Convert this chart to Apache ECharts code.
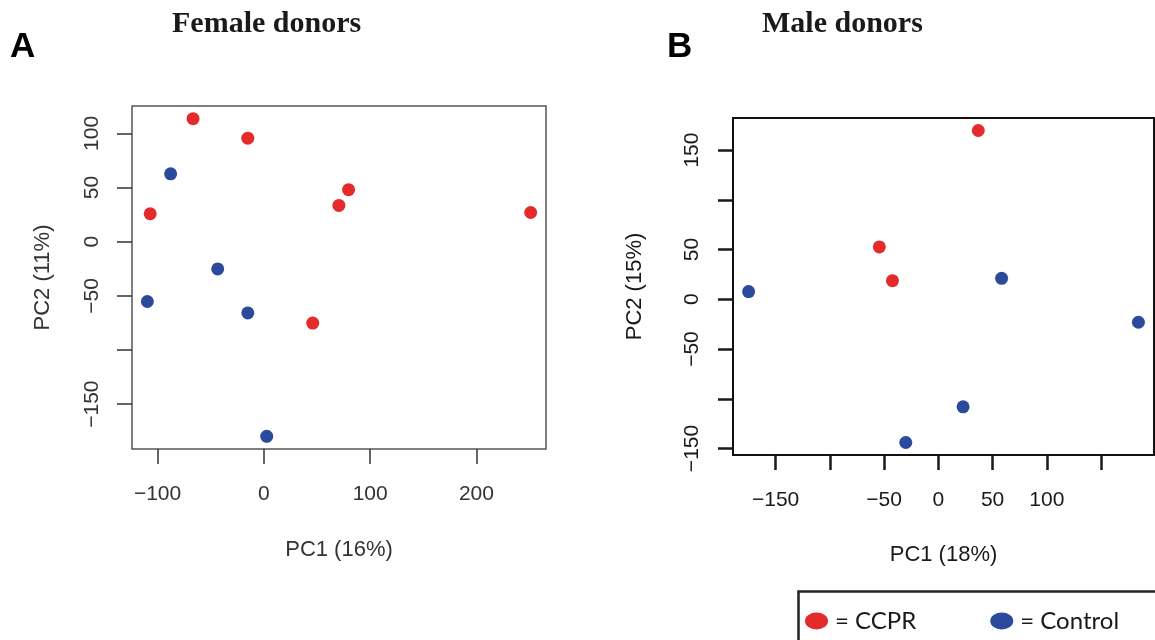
<!DOCTYPE html>
<html>
<head>
<meta charset="utf-8">
<script src="https://cdn.jsdelivr.net/npm/echarts@6/dist/echarts.min.js"></script>
<style>
  html, body { margin: 0; padding: 0; background: #ffffff; }
  #chart { width: 1155px; height: 640px; }
</style>
</head>
<body>
<div id="chart"></div>
<script>
// ---------- data ----------
const femaleCCPR_PC1    = [-106.9, -66.6, -15.1, 70.6, 79.7, 46.0, 251.0];
const femaleCCPR_PC2    = [25.8, 113.6, 95.6, 33.5, 48.1, -75.1, 27.0];
const femaleControl_PC1 = [-87.7, -43.4, -109.6, -15.1, 2.7];
const femaleControl_PC2 = [62.7, -25.1, -55.2, -65.8, -179.7];

const maleCCPR_PC1    = [36.8, -54.4, -42.3];
const maleCCPR_PC2    = [169.7, 52.6, 18.7];
const maleControl_PC1 = [-174.9, 58.3, 184.4, 22.8, -30.0];
const maleControl_PC2 = [7.7, 21.1, -23.1, -108.1, -144.0];

// tick marks and the tick labels that are printed
const femaleXTicks  = [-100, 0, 100, 200];
const femaleXLabels = [-100, 0, 100, 200];
const femaleYTicks  = [-150, -100, -50, 0, 50, 100];
const femaleYLabels = [-150, -50, 0, 50, 100];
const maleXTicks  = [-150, -100, -50, 0, 50, 100, 150];
const maleXLabels = [-150, -50, 0, 50, 100];
const maleYTicks  = [-150, -100, -50, 0, 50, 100, 150];
const maleYLabels = [-150, -50, 0, 50, 150];

const seriesNames = ['CCPR', 'Control'];
const titles = ['Female donors', 'Male donors'];
const panelLetters = ['A', 'B'];
const xNames = ['PC1 (16%)', 'PC1 (18%)'];
const yNames = ['PC2 (11%)', 'PC2 (15%)'];

// ---------- helpers ----------
const RED = '#e42a2b';
const BLUE = '#2b4a9b';
const pairs = (xs, ys) => xs.map((x, i) => [x, ys[i]]);
const minusFmt = v => String(v).replace('-', '\u2212');
// R-style 4% padding of the data range
function rRange(arrs) {
  const all = [].concat(...arrs);
  const lo = Math.min(...all), hi = Math.max(...all);
  const pad = (hi - lo) * 0.04;
  return [lo - pad, hi + pad];
}
const fX = rRange([femaleCCPR_PC1, femaleControl_PC1]);
const fY = rRange([femaleCCPR_PC2, femaleControl_PC2]);
const mX = rRange([maleCCPR_PC1, maleControl_PC1]);
const mY = rRange([maleCCPR_PC2, maleControl_PC2]);

const labelFont = { fontFamily: 'Liberation Sans, Arial, sans-serif', fontSize: 21 };

function xAxisOf(grid, range, ticks, labels, name, color, tickWidth, gap) {
  return {
    type: 'value', gridIndex: grid, min: range[0], max: range[1],
    name: name, nameLocation: 'middle', nameGap: gap,
    nameTextStyle: { color: color, fontSize: 22, fontFamily: labelFont.fontFamily },
    axisLine: { show: false, onZero: false },
    splitLine: { show: false },
    axisTick: { show: true, inside: false, length: 15, customValues: ticks,
                lineStyle: { color: color, width: tickWidth } },
    axisLabel: Object.assign({ show: true, customValues: labels, margin: 35,
                formatter: minusFmt, color: color }, labelFont)
  };
}
function yAxisOf(grid, range, ticks, labels, name, color, tickWidth, gap, margin) {
  return {
    type: 'value', gridIndex: grid, min: range[0], max: range[1],
    name: name, nameLocation: 'middle', nameGap: gap, nameRotate: 90,
    nameTextStyle: { color: color, fontSize: 22, fontFamily: labelFont.fontFamily },
    axisLine: { show: false, onZero: false },
    splitLine: { show: false },
    axisTick: { show: true, inside: false, length: 15, customValues: ticks,
                lineStyle: { color: color, width: tickWidth } },
    axisLabel: Object.assign({ show: true, customValues: labels, margin: margin, rotate: 90,
                formatter: minusFmt, color: color }, labelFont)
  };
}

const chart = echarts.init(document.getElementById('chart'), null, { renderer: 'canvas' });

const titleFont = { fontFamily: 'Liberation Serif, Times New Roman, serif', fontWeight: 'bold', fontSize: 30, color: '#1a1a1a' };
const letterFont = { fontFamily: 'Liberation Sans, Arial, sans-serif', fontWeight: 'bold', fontSize: 35, color: '#000' };

const option = {
  backgroundColor: '#ffffff',
  animation: false,
  title: [
    { text: titles[0], left: 167, top: 4, textStyle: titleFont },
    { text: titles[1], left: 757, top: 4, textStyle: titleFont },
    { text: panelLetters[0], left: 5, top: 25, textStyle: letterFont },
    { text: panelLetters[1], left: 662, top: 25, textStyle: letterFont }
  ],
  legend: {
    data: seriesNames,
    left: 800, top: 604,
    itemWidth: 23, itemHeight: 17, itemGap: 74,
    icon: 'path://M0,8.5A11.5,8.5,0,1,1,23,8.5A11.5,8.5,0,1,1,0,8.5Z',
    formatter: n => '= ' + n,
    textStyle: { fontFamily: 'Lato, Open Sans, sans-serif', fontSize: 24, color: '#1a1a1a', padding: [0, 0, 0, 2] },
    selectedMode: false
  },
  grid: [
    { left: 132, top: 106, width: 414, height: 343, show: true,
      borderColor: '#555', borderWidth: 1.5, backgroundColor: 'transparent' },
    { left: 733, top: 118, width: 421, height: 337, show: true,
      borderColor: '#111', borderWidth: 2, backgroundColor: 'transparent' }
  ],
  xAxis: [
    xAxisOf(0, fX, femaleXTicks, femaleXLabels, xNames[0], '#333', 1.5, 90),
    xAxisOf(1, mX, maleXTicks, maleXLabels, xNames[1], '#1a1a1a', 2.5, 89)
  ],
  yAxis: [
    yAxisOf(0, fY, femaleYTicks, femaleYLabels, yNames[0], '#333', 1.5, 78, 29),
    yAxisOf(1, mY, maleYTicks, maleYLabels, yNames[1], '#1a1a1a', 2.5, 87, 30)
  ],
  graphic: [
    { type: 'rect', left: 796, top: 589, silent: true,
      shape: { width: 400, height: 100 },
      style: { fill: 'none', stroke: '#222', lineWidth: 2.5 } }
  ],
  series: [
    { name: seriesNames[0], type: 'scatter', xAxisIndex: 0, yAxisIndex: 0,
      symbolSize: 13, itemStyle: { color: RED, opacity: 1 },
      data: pairs(femaleCCPR_PC1, femaleCCPR_PC2) },
    { name: seriesNames[1], type: 'scatter', xAxisIndex: 0, yAxisIndex: 0,
      symbolSize: 13, itemStyle: { color: BLUE, opacity: 1 },
      data: pairs(femaleControl_PC1, femaleControl_PC2) },
    { name: seriesNames[0], type: 'scatter', xAxisIndex: 1, yAxisIndex: 1,
      symbolSize: 13, itemStyle: { color: RED, opacity: 1 },
      data: pairs(maleCCPR_PC1, maleCCPR_PC2) },
    { name: seriesNames[1], type: 'scatter', xAxisIndex: 1, yAxisIndex: 1,
      symbolSize: 13, itemStyle: { color: BLUE, opacity: 1 },
      data: pairs(maleControl_PC1, maleControl_PC2) }
  ]
};
chart.setOption(option);
</script>
</body>
</html>
